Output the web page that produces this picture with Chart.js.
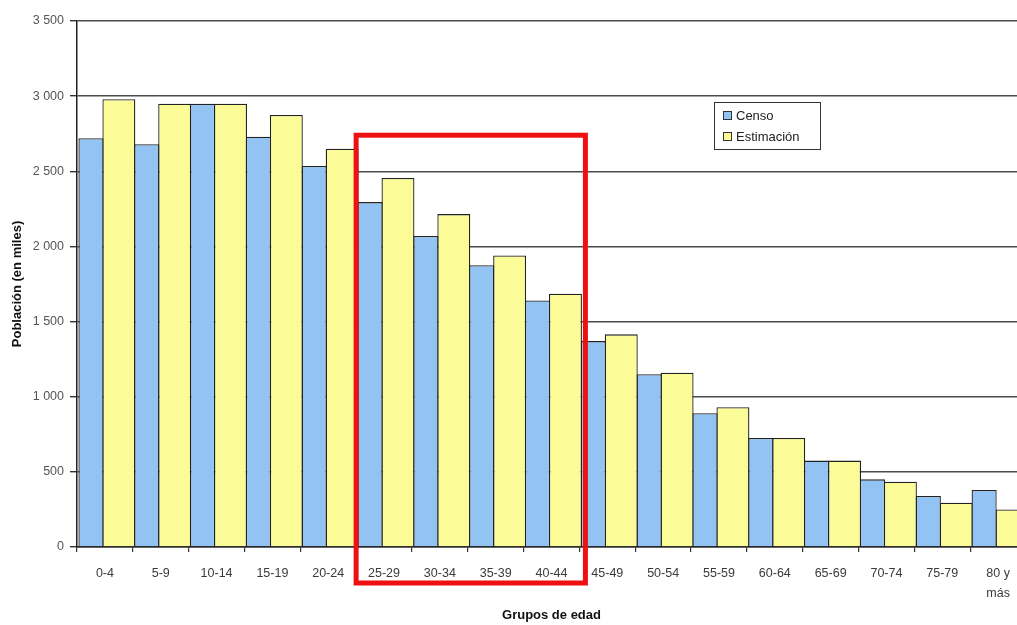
<!DOCTYPE html>
<html lang="es">
<head>
<meta charset="UTF-8">
<title>Población por grupos de edad</title>
<script src="https://cdn.jsdelivr.net/npm/chart.js@4"></script>
<style>
    html, body {
        margin: 0;
        padding: 0;
        background: #fff;
        overflow: hidden;
    }
    .chart-box {
        position: relative;
        width: 1040px;
        height: 625px;
    }
</style>
</head>
<body>
<div class="chart-box">
    <canvas id="barChart" width="1040" height="625"></canvas>
</div>

<script>
    // data (thousands of people)
    const ageGroups = ['0-4', '5-9', '10-14', '15-19', '20-24', '25-29', '30-34', '35-39', '40-44',
        '45-49', '50-54', '55-59', '60-64', '65-69', '70-74', '75-79', ['80 y', 'más']];
    const censo      = [2720, 2680, 2950, 2730, 2535, 2295, 2070, 1875, 1640, 1370, 1150, 890, 725, 575, 450, 340, 380];
    const estimacion = [2980, 2950, 2950, 2875, 2650, 2455, 2215, 1940, 1685, 1415, 1160, 930, 725, 575, 435, 295, 250];
    const yMax = 3500;
    const yStep = 500;

    // highlighted groups (red frame): 25-29 .. 40-44
    const highlightFrom = 5;
    const highlightTo = 8;
    const highlightTop = 2740;

    const fontFamily = "'Liberation Sans', Arial, sans-serif";

    function fmt(v) {
        return String(v).replace(/\B(?=(\d{3})+(?!\d))/g, ' ');
    }

    const extras = {
        id: 'extras',
        afterDraw(chart) {
            const ctx = chart.ctx;
            const x = chart.scales.x;
            const y = chart.scales.y;
            const catW = x.getPixelForValue(1) - x.getPixelForValue(0);

            // red frame
            ctx.save();
            ctx.strokeStyle = '#ee1111';
            ctx.lineWidth = 5;
            const left = x.getPixelForValue(highlightFrom) - catW / 2;
            const right = x.getPixelForValue(highlightTo) + catW / 2 + 6;
            const top = y.getPixelForValue(highlightTop);
            const bottom = chart.chartArea.bottom + 36;
            ctx.strokeRect(left, top, right - left, bottom - top);
            ctx.restore();

            // legend box
            ctx.save();
            const bx = 714, by = 102, bw = 106, bh = 47;
            ctx.fillStyle = '#fff';
            ctx.fillRect(bx, by, bw, bh);
            ctx.strokeStyle = '#333';
            ctx.lineWidth = 1;
            ctx.strokeRect(bx + 0.5, by + 0.5, bw, bh);
            ctx.font = '13px ' + fontFamily;
            ctx.textBaseline = 'middle';
            chart.data.datasets.forEach((ds, i) => {
                const cy = by + 13 + i * 21;
                ctx.fillStyle = ds.backgroundColor;
                ctx.fillRect(723, cy - 4, 8, 8);
                ctx.strokeStyle = '#333';
                ctx.strokeRect(723.5, cy - 3.5, 8, 8);
                ctx.fillStyle = '#222';
                ctx.fillText(ds.label, 736, cy + 1);
            });
            ctx.restore();
        }
    };

    new Chart(document.getElementById('barChart'), {
        type: 'bar',
        data: {
            labels: ageGroups,
            datasets: [{
                label: 'Censo',
                data: censo,
                backgroundColor: '#92c3f3',
                borderColor: '#222',
                borderWidth: 1.3,
                barPercentage: 0.9,
                categoryPercentage: 1
            }, {
                label: 'Estimación',
                data: estimacion,
                backgroundColor: '#fbfb98',
                borderColor: '#222',
                borderWidth: 1.3,
                barPercentage: 1.18,
                categoryPercentage: 1
            }]
        },
        options: {
            responsive: false,
            animation: false,
            layout: {
                padding: { top: 21, right: 14, left: 0, bottom: 0 }
            },
            plugins: {
                legend: { display: false },
                tooltip: { enabled: false }
            },
            scales: {
                x: {
                    offset: true,
                    grid: {
                        offset: true,
                        drawOnChartArea: false,
                        drawTicks: true,
                        tickLength: 5,
                        color: '#333',
                        lineWidth: 1.2
                    },
                    border: { color: '#222', width: 1.5 },
                    ticks: {
                        color: '#3a3a3a',
                        autoSkip: false,
                        maxRotation: 0,
                        padding: 12,
                        font: { size: 12.5, family: fontFamily, lineHeight: 1.6 }
                    },
                    title: {
                        display: true,
                        text: 'Grupos de edad',
                        color: '#111',
                        font: { size: 13, weight: 'bold', family: fontFamily },
                        padding: { top: 0, bottom: 2 }
                    },
                    afterFit(scale) {
                        scale.height = 78;
                    }
                },
                y: {
                    min: 0,
                    max: yMax,
                    ticks: {
                        stepSize: yStep,
                        color: '#555',
                        padding: 6,
                        font: { size: 12.5, family: fontFamily },
                        callback: v => fmt(v)
                    },
                    grid: {
                        color: '#4a4a4a',
                        lineWidth: 1.4,
                        tickLength: 7,
                        tickColor: '#333'
                    },
                    border: { color: '#222', width: 1.5 },
                    title: {
                        display: true,
                        text: 'Población (en miles)',
                        color: '#111',
                        font: { size: 13, weight: 'bold', family: fontFamily },
                        padding: { top: 10, bottom: 0 }
                    },
                    afterFit(scale) {
                        scale.width = 77;
                    }
                }
            }
        },
        plugins: [extras]
    });
</script>
</body>
</html>
